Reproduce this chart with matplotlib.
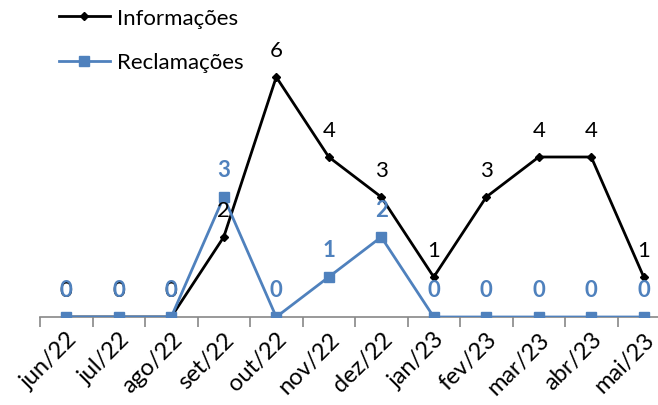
import matplotlib.pyplot as plt

meses = ['jun/22', 'jul/22', 'ago/22', 'set/22', 'out/22', 'nov/22',
         'dez/22', 'jan/23', 'fev/23', 'mar/23', 'abr/23', 'mai/23']
informacoes = [0, 0, 0, 2, 6, 4, 3, 1, 3, 4, 4, 1]
reclamacoes = [0, 0, 0, 3, 0, 1, 2, 0, 0, 0, 0, 0]

plt.rcParams['font.family'] = ['Lato', 'DejaVu Sans']
azul = '#4F81BD'

fig = plt.figure(figsize=(6.58, 4.06), dpi=100)
ax = fig.add_axes([40 / 658, 88 / 406, 630 / 658, 280 / 406])

x = list(range(len(meses)))
ax.plot(x, informacoes, color='black', lw=2, marker='D', ms=4,
        label='Informações', zorder=3)
ax.plot(x, reclamacoes, color=azul, lw=2, marker='s', ms=7.5,
        label='Reclamações', zorder=4)

for i, v in enumerate(informacoes):
    ax.annotate(str(v), (i, v), xytext=(0, 12), textcoords='offset points',
                ha='center', va='bottom', fontsize=16, color='black', zorder=5)
for i, v in enumerate(reclamacoes):
    ax.annotate(str(v), (i, v), xytext=(0, 12), textcoords='offset points',
                ha='center', va='bottom', fontsize=16, color=azul,
                fontweight='bold', zorder=6)

ax.set_xlim(-0.5, len(meses) - 0.5)
ax.set_ylim(0, 7)
ax.set_yticks([])
for s in ['top', 'right', 'left']:
    ax.spines[s].set_visible(False)
ax.spines['bottom'].set_color('#888888')
ax.spines['bottom'].set_linewidth(1.2)

ax.set_xticks([i - 0.5 for i in range(len(meses) + 1)], minor=False)
ax.set_xticklabels([])
ax.tick_params(axis='x', which='major', length=7, color='#888888', width=1.2)
ax.set_xticks(x, minor=True)
ax.set_xticklabels(meses, minor=True, rotation=45, ha='right',
                   rotation_mode='anchor', fontsize=17)
ax.tick_params(axis='x', which='minor', length=0, pad=8)

ax.legend(loc='upper left', bbox_to_anchor=(50 / 658, 1.0),
          bbox_transform=fig.transFigure, frameon=False, fontsize=16,
          borderaxespad=0, handlelength=2.3, handletextpad=0.3,
          labelspacing=1.1)

fig.savefig('out.png', dpi=100)
